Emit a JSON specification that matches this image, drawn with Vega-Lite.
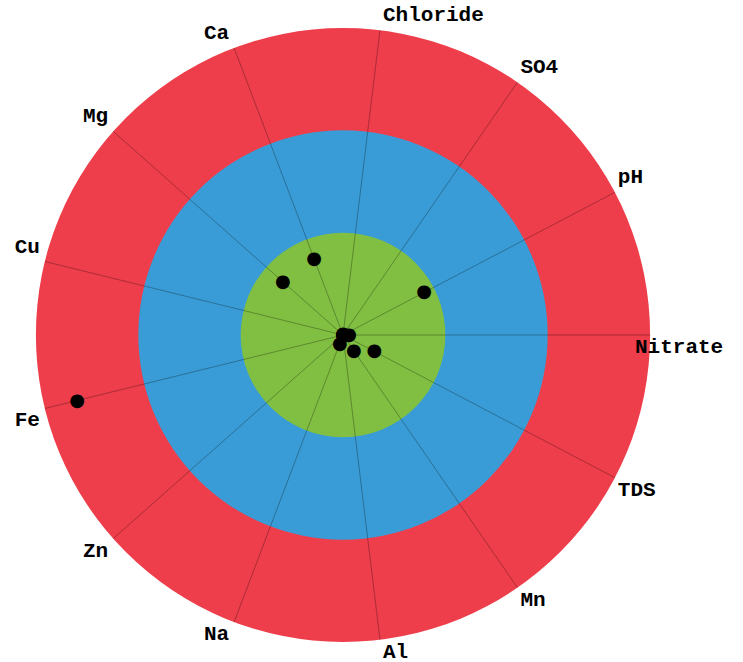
{
  "$schema": "https://vega.github.io/schema/vega-lite/v6.json",
  "autosize": {"type": "none"},
  "width": 614,
  "height": 614,
  "padding": {"left": 36, "top": 28, "right": 93, "bottom": 20},
  "background": "white",
  "config": {"view": {"stroke": null}},
  "datasets": {
    "rings": [
      {"ring": "Outer", "r": 3},
      {"ring": "Middle", "r": 2},
      {"ring": "Inner", "r": 1}
    ],
    "params": [
      {"cat": "Nitrate", "order": 0, "value": 0.06},
      {"cat": "TDS", "order": 1, "value": 0.345},
      {"cat": "Mn", "order": 2, "value": 0.186},
      {"cat": "Al", "order": 3, "value": 0},
      {"cat": "Na", "order": 4, "value": 0.089},
      {"cat": "Zn", "order": 5, "value": 0},
      {"cat": "Fe", "order": 6, "value": 2.676},
      {"cat": "Cu", "order": 7, "value": 0},
      {"cat": "Mg", "order": 8, "value": 0.784},
      {"cat": "Ca", "order": 9, "value": 0.799},
      {"cat": "Chloride", "order": 10, "value": 0.01},
      {"cat": "SO4", "order": 11, "value": 0},
      {"cat": "pH", "order": 12, "value": 0.894}
    ]
  },
  "layer": [
    {
      "data": {"name": "rings"},
      "mark": {"type": "arc", "theta": 0, "theta2": 6.2832, "stroke": null},
      "encoding": {
        "radius": {"field": "r", "type": "quantitative", "stack": null, "scale": {"type": "linear", "domain": [0, 3], "range": [0, 307], "zero": true}},
        "color": {"field": "ring", "type": "nominal", "scale": {"domain": ["Outer", "Middle", "Inner"], "range": ["#ee3e4b", "#3a9cd6", "#80bf41"]}, "legend": null},
        "order": {"field": "r", "type": "quantitative", "sort": "descending"}
      }
    },
    {
      "data": {"name": "params"},
      "mark": {"type": "arc", "radius": 307, "radius2": 0, "fill": null, "stroke": "#000000", "strokeOpacity": 0.15, "strokeWidth": 1},
      "encoding": {
        "theta": {"field": "order", "type": "quantitative", "stack": null, "scale": {"type": "linear", "domain": [0, 13], "range": [1.5708, 7.854]}},
        "theta2": {"field": "order"}
      }
    },
    {
      "data": {"name": "params"},
      "mark": {"type": "text", "text": "●", "font": "DejaVu Sans", "fontSize": 18, "align": "center", "baseline": "middle", "color": "#000000"},
      "encoding": {
        "theta": {"field": "order", "type": "quantitative", "stack": null, "scale": {"type": "linear", "domain": [0, 13], "range": [1.5708, 7.854]}},
        "radius": {"field": "value", "type": "quantitative", "stack": null, "scale": {"type": "linear", "domain": [0, 3], "range": [0, 307], "zero": true}}
      }
    },
    {
      "data": {"name": "params"},
      "transform": [{"filter": {"field": "cat", "oneOf": ["TDS", "Mn", "Al"]}}],
      "mark": {"type": "text", "radius": 307, "font": "Liberation Mono", "fontWeight": "bold", "fontSize": 21, "align": "left", "baseline": "middle", "dx": 3, "dy": 12, "color": "#000000"},
      "encoding": {
        "theta": {"field": "order", "type": "quantitative", "stack": null, "scale": {"type": "linear", "domain": [0, 13], "range": [1.5708, 7.854]}},
        "text": {"field": "cat"}
      }
    },
    {
      "data": {"name": "params"},
      "transform": [{"filter": {"field": "cat", "oneOf": ["Nitrate"]}}],
      "mark": {"type": "text", "radius": 307, "font": "Liberation Mono", "fontWeight": "bold", "fontSize": 21, "align": "left", "baseline": "middle", "dx": -15, "dy": 12, "color": "#000000"},
      "encoding": {
        "theta": {"field": "order", "type": "quantitative", "stack": null, "scale": {"type": "linear", "domain": [0, 13], "range": [1.5708, 7.854]}},
        "text": {"field": "cat"}
      }
    },
    {
      "data": {"name": "params"},
      "transform": [{"filter": {"field": "cat", "oneOf": ["Na", "Zn", "Fe"]}}],
      "mark": {"type": "text", "radius": 307, "font": "Liberation Mono", "fontWeight": "bold", "fontSize": 21, "align": "right", "baseline": "middle", "dx": -5, "dy": 12, "color": "#000000"},
      "encoding": {
        "theta": {"field": "order", "type": "quantitative", "stack": null, "scale": {"type": "linear", "domain": [0, 13], "range": [1.5708, 7.854]}},
        "text": {"field": "cat"}
      }
    },
    {
      "data": {"name": "params"},
      "transform": [{"filter": {"field": "cat", "oneOf": ["Cu", "Mg", "Ca"]}}],
      "mark": {"type": "text", "radius": 307, "font": "Liberation Mono", "fontWeight": "bold", "fontSize": 21, "align": "right", "baseline": "middle", "dx": -5, "dy": -15, "color": "#000000"},
      "encoding": {
        "theta": {"field": "order", "type": "quantitative", "stack": null, "scale": {"type": "linear", "domain": [0, 13], "range": [1.5708, 7.854]}},
        "text": {"field": "cat"}
      }
    },
    {
      "data": {"name": "params"},
      "transform": [{"filter": {"field": "cat", "oneOf": ["Chloride", "SO4", "pH"]}}],
      "mark": {"type": "text", "radius": 307, "font": "Liberation Mono", "fontWeight": "bold", "fontSize": 21, "align": "left", "baseline": "middle", "dx": 3, "dy": -15, "color": "#000000"},
      "encoding": {
        "theta": {"field": "order", "type": "quantitative", "stack": null, "scale": {"type": "linear", "domain": [0, 13], "range": [1.5708, 7.854]}},
        "text": {"field": "cat"}
      }
    }
  ]
}
